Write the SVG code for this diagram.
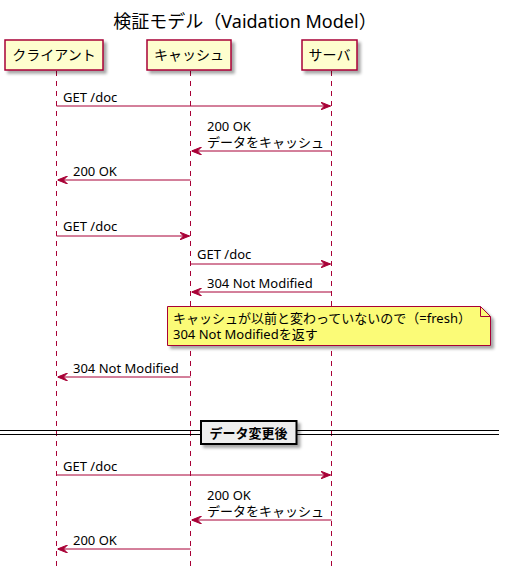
<svg xmlns="http://www.w3.org/2000/svg" width="505" height="573" viewBox="0 0 505 573">
<defs>
<filter id="sh" x="-10%" y="-20%" width="130%" height="160%">
<feDropShadow dx="3" dy="3" stdDeviation="1.5" flood-color="#000" flood-opacity="0.35"/>
</filter>
<marker id="ah" viewBox="0 0 10 8" refX="10" refY="4" markerWidth="10" markerHeight="8" markerUnits="userSpaceOnUse" orient="auto-start-reverse">
<polygon points="0,0 10,4 0,8 4,4" fill="#A80036" stroke="#A80036" stroke-width="1"/>
</marker>
</defs>
<style>
text{font-family:"Noto Sans","Noto Sans CJK JP",sans-serif;fill:#000}
.t{font-size:18px}
.p{font-size:14px}
.m{font-size:13px}
.b{font-size:13px;font-weight:bold}
.box{fill:#FEFECE;stroke:#A80036;stroke-width:1.5}
.life{stroke:#A80036;stroke-width:1;stroke-dasharray:5,5}
.msg{stroke:#A80036;stroke-width:1;fill:none;marker-end:url(#ah)}
.note{fill:#FBFB77;stroke:#A80036;stroke-width:1}
</style>
<rect width="505" height="573" fill="#fff"/>
<text class="t" x="245" y="28" text-anchor="middle">検証モデル（Vaidation Model）</text>
<g id="lifelines">
<line class="life" x1="56.5" y1="71" x2="56.5" y2="567"/>
<line class="life" x1="190.5" y1="71" x2="190.5" y2="567"/>
<line class="life" x1="331.5" y1="71" x2="331.5" y2="567"/>
</g>
<g id="client">
<rect class="box" x="5" y="40" width="98" height="30" filter="url(#sh)"/>
<text class="p" x="54" y="60" text-anchor="middle">クライアント</text>
</g>
<g id="cache">
<rect class="box" x="147" y="40" width="84" height="30" filter="url(#sh)"/>
<text class="p" x="189" y="60" text-anchor="middle">キャッシュ</text>
</g>
<g id="server">
<rect class="box" x="302" y="40" width="55" height="30" filter="url(#sh)"/>
<text class="p" x="329.5" y="60" text-anchor="middle">サーバ</text>
</g>
<g id="note">
<path class="note" d="M167.5,306.5 H480.5 L490.5,316.5 V345.5 H167.5 Z" filter="url(#sh)"/>
<path d="M480.5,306.5 V316.5 H490.5" fill="none" stroke="#A80036" stroke-width="1"/>
<text class="m" x="173" y="323">キャッシュが以前と変わっていないので（=fresh）</text>
<text class="m" x="173" y="339">304 Not Modifiedを返す</text>
</g>
<g id="divider">
<line x1="0" y1="430.5" x2="499" y2="430.5" stroke="#000" stroke-width="1"/>
<line x1="0" y1="434.5" x2="499" y2="434.5" stroke="#000" stroke-width="1"/>
<rect x="201" y="421" width="95.5" height="23" fill="#EEEEEE" stroke="#000" stroke-width="2" filter="url(#sh)"/>
<text class="b" x="248.5" y="438" text-anchor="middle">データ変更後</text>
</g>
<g id="connectors">
<line class="msg" x1="56.5" y1="106" x2="330.5" y2="106"/>
<text class="m" x="63" y="102">GET /doc</text>
<line class="msg" x1="331.5" y1="151" x2="191.5" y2="151"/>
<text class="m" x="207" y="131">200 OK</text>
<text class="m" x="207" y="147">データをキャッシュ</text>
<line class="msg" x1="190.5" y1="180" x2="57.5" y2="180"/>
<text class="m" x="73" y="176">200 OK</text>
<line class="msg" x1="56.5" y1="236" x2="189.5" y2="236"/>
<text class="m" x="63" y="231">GET /doc</text>
<line class="msg" x1="190.5" y1="264" x2="330.5" y2="264"/>
<text class="m" x="197" y="259">GET /doc</text>
<line class="msg" x1="331.5" y1="292" x2="191.5" y2="292"/>
<text class="m" x="207" y="288">304 Not Modified</text>
<line class="msg" x1="190.5" y1="377" x2="57.5" y2="377"/>
<text class="m" x="73" y="373">304 Not Modified</text>
<line class="msg" x1="56.5" y1="475" x2="330.5" y2="475"/>
<text class="m" x="63" y="471">GET /doc</text>
<line class="msg" x1="331.5" y1="520" x2="191.5" y2="520"/>
<text class="m" x="207" y="500">200 OK</text>
<text class="m" x="207" y="516">データをキャッシュ</text>
<line class="msg" x1="190.5" y1="549" x2="57.5" y2="549"/>
<text class="m" x="73" y="545">200 OK</text>
</g>
</svg>
